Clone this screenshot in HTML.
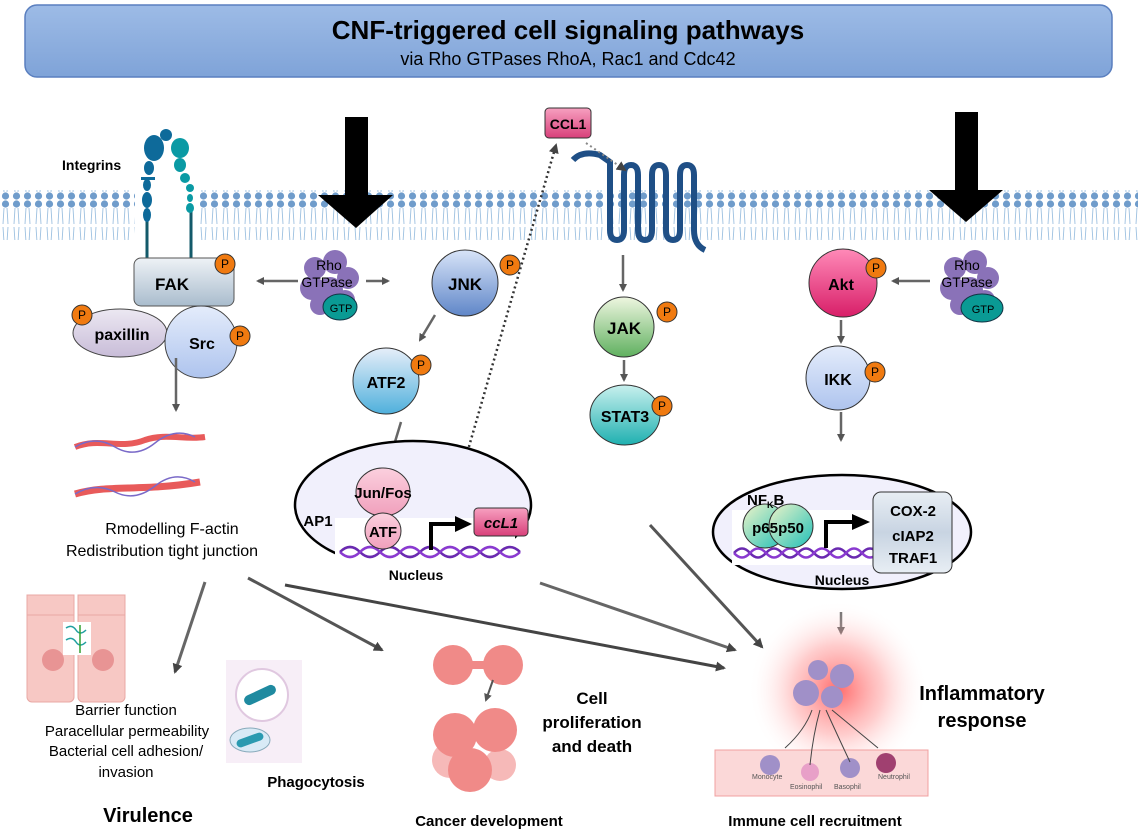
<!DOCTYPE html>
<html><head><meta charset="utf-8"><style>
html,body{margin:0;padding:0;background:#fff}
svg{display:block}
text{font-family:"Liberation Sans",Arial,sans-serif}
.b{font-weight:bold}
</style></head><body>
<svg width="1138" height="835" viewBox="0 0 1138 835" xmlns="http://www.w3.org/2000/svg">
<defs>
<linearGradient id="tg" x1="0" y1="0" x2="0" y2="1"><stop offset="0" stop-color="#9dbbe6"/><stop offset="1" stop-color="#7fa3d8"/></linearGradient>
<pattern id="mem" x="0" y="0" width="11" height="50" patternUnits="userSpaceOnUse">
<circle cx="5.5" cy="4" r="3.6" fill="#6f9ccb"/>
<circle cx="5.5" cy="46" r="3.6" fill="#6f9ccb"/>
<path d="M4 8 L3 24 M7 8 L8 24 M3 27 L4 42 M8 27 L7 42" stroke="#9cc0e0" stroke-width="0.9" fill="none"/>
</pattern>
<linearGradient id="blue" x1="0" y1="0" x2="0" y2="1"><stop offset="0" stop-color="#d8e4f8"/><stop offset="1" stop-color="#5f86c8"/></linearGradient>
<linearGradient id="lblue" x1="0" y1="0" x2="0" y2="1"><stop offset="0" stop-color="#e4ecfb"/><stop offset="1" stop-color="#aec4ee"/></linearGradient>
<linearGradient id="atf2" x1="0" y1="0" x2="0" y2="1"><stop offset="0" stop-color="#e6eef9"/><stop offset="1" stop-color="#4fb0dc"/></linearGradient>
<linearGradient id="fak" x1="0" y1="0" x2="0" y2="1"><stop offset="0" stop-color="#eef2f6"/><stop offset="1" stop-color="#a9bccd"/></linearGradient>
<linearGradient id="pax" x1="0" y1="0" x2="0" y2="1"><stop offset="0" stop-color="#ece8f2"/><stop offset="1" stop-color="#c8bcd8"/></linearGradient>
<linearGradient id="green" x1="0" y1="0" x2="0" y2="1"><stop offset="0" stop-color="#eef6e0"/><stop offset="1" stop-color="#5fb05f"/></linearGradient>
<linearGradient id="teal" x1="0" y1="0" x2="0" y2="1"><stop offset="0" stop-color="#c8f0ee"/><stop offset="1" stop-color="#1fb0b0"/></linearGradient>
<linearGradient id="akt" x1="0" y1="0" x2="0" y2="1"><stop offset="0" stop-color="#ff8ab8"/><stop offset="1" stop-color="#d81e68"/></linearGradient>
<linearGradient id="pink" x1="0" y1="0" x2="0" y2="1"><stop offset="0" stop-color="#fbd0de"/><stop offset="1" stop-color="#f0a0bc"/></linearGradient>
<linearGradient id="ccl" x1="0" y1="0" x2="0" y2="1"><stop offset="0" stop-color="#f7a0c0"/><stop offset="1" stop-color="#d8407a"/></linearGradient>
<linearGradient id="nf" x1="0" y1="0" x2="1" y2="1"><stop offset="0" stop-color="#f0f4c8"/><stop offset="1" stop-color="#20c0b8"/></linearGradient>
<linearGradient id="cox" x1="0" y1="0" x2="0" y2="1"><stop offset="0" stop-color="#e8eef4"/><stop offset="0.5" stop-color="#c8d4e2"/><stop offset="1" stop-color="#e8eef4"/></linearGradient>
<radialGradient id="glow"><stop offset="0" stop-color="#ff5a5a" stop-opacity="0.9"/><stop offset="0.5" stop-color="#ff9a9a" stop-opacity="0.5"/><stop offset="1" stop-color="#fff" stop-opacity="0"/></radialGradient>
<marker id="ah" markerWidth="8" markerHeight="8" refX="6" refY="4" orient="auto" markerUnits="userSpaceOnUse"><path d="M0 0 L8 4 L0 8 Z" fill="#555"/></marker>
<marker id="ahd" markerWidth="10" markerHeight="10" refX="8" refY="5" orient="auto" markerUnits="userSpaceOnUse"><path d="M0 0 L10 5 L0 10 Z" fill="#444"/></marker>
</defs>

<rect x="25" y="5" width="1087" height="72" rx="12" fill="url(#tg)" stroke="#5a7fbf" stroke-width="1.5"/>
<text x="568" y="39" text-anchor="middle" class="b" font-size="26">CNF-triggered cell signaling pathways</text>
<text x="568" y="65" text-anchor="middle" font-size="18">via Rho GTPases RhoA, Rac1 and Cdc42</text>

<rect x="0" y="190" width="135" height="50" fill="url(#mem)"/>
<rect x="200" y="190" width="938" height="50" fill="url(#mem)"/>

<text x="62" y="170" class="b" font-size="14">Integrins</text>
<line x1="147" y1="210" x2="147" y2="258" stroke="#135a6a" stroke-width="3"/>
<line x1="191" y1="210" x2="191" y2="258" stroke="#135a6a" stroke-width="3"/>
<g fill="#0e6a9a"><ellipse cx="154" cy="148" rx="10" ry="13"/><ellipse cx="166" cy="135" rx="6" ry="6"/><ellipse cx="149" cy="168" rx="5" ry="7"/><ellipse cx="147" cy="185" rx="4" ry="6"/><rect x="141" y="177" width="14" height="3"/><ellipse cx="147" cy="200" rx="5" ry="8"/><ellipse cx="147" cy="215" rx="4" ry="7"/></g>
<g fill="#0a9aa4"><ellipse cx="180" cy="148" rx="9" ry="10"/><ellipse cx="180" cy="165" rx="6" ry="7"/><ellipse cx="185" cy="178" rx="5" ry="5"/><ellipse cx="190" cy="188" rx="4" ry="4"/><ellipse cx="190" cy="198" rx="3" ry="4"/><ellipse cx="190" cy="208" rx="4" ry="5"/></g>

<path d="M345 117 H368 V195 H393 L356 228 L318 195 H345 Z" fill="#000"/>
<path d="M955 112 H978 V190 H1003 L966 222 L929 190 H955 Z" fill="#000"/>

<rect x="134" y="258" width="100" height="48" rx="7" fill="url(#fak)" stroke="#555"/>
<text x="172" y="290" text-anchor="middle" class="b" font-size="17">FAK</text>
<ellipse cx="120" cy="333" rx="47" ry="24" fill="url(#pax)" stroke="#444"/>
<text x="122" y="340" text-anchor="middle" class="b" font-size="16">paxillin</text>
<circle cx="201" cy="342" r="36" fill="url(#lblue)" stroke="#444"/>
<text x="202" y="349" text-anchor="middle" class="b" font-size="16">Src</text>

<g fill="#8a72b8"><circle cx="315" cy="268" r="11"/><circle cx="335" cy="262" r="12"/><circle cx="348" cy="278" r="11"/><circle cx="312" cy="288" r="12"/><circle cx="330" cy="290" r="13"/><circle cx="320" cy="305" r="10"/><circle cx="345" cy="300" r="10"/></g>
<text x="329" y="270" text-anchor="middle" font-size="14">Rho</text>
<text x="327" y="287" text-anchor="middle" font-size="14">GTPase</text>
<ellipse cx="340" cy="307" rx="17" ry="13" fill="#0a9a94" stroke="#134"/>
<text x="341" y="312" text-anchor="middle" font-size="11">GTP</text>

<circle cx="465" cy="283" r="33" fill="url(#blue)" stroke="#333"/>
<text x="465" y="290" text-anchor="middle" class="b" font-size="17">JNK</text>
<circle cx="386" cy="381" r="33" fill="url(#atf2)" stroke="#333"/>
<text x="386" y="388" text-anchor="middle" class="b" font-size="16">ATF2</text>

<rect x="545" y="108" width="46" height="30" rx="4" fill="url(#ccl)" stroke="#333"/>
<text x="568" y="129" text-anchor="middle" class="b" font-size="14">CCL1</text>
<path d="M573 160 Q582 150 600 155 L610 162 V230 Q610 240 617 240 Q624 240 624 230 V175 Q624 165 631 165 Q638 165 638 175 V230 Q638 240 645 240 Q652 240 652 230 V175 Q652 165 659 165 Q666 165 666 175 V230 Q666 240 673 240 Q680 240 680 230 V175 Q680 165 687 165 Q694 165 694 175 V230 Q694 245 705 250" fill="none" stroke="#1f4f86" stroke-width="6"/>
<line x1="586" y1="143" x2="625" y2="170" stroke="#888" stroke-width="2" stroke-dasharray="2,3" marker-end="url(#ahd)"/>
<line x1="455" y1="495" x2="556" y2="145" stroke="#333" stroke-width="2.5" stroke-dasharray="2,3" marker-end="url(#ahd)"/>

<circle cx="624" cy="327" r="30" fill="url(#green)" stroke="#333"/>
<text x="624" y="334" text-anchor="middle" class="b" font-size="17">JAK</text>
<ellipse cx="625" cy="415" rx="35" ry="30" fill="url(#teal)" stroke="#333"/>
<text x="625" y="422" text-anchor="middle" class="b" font-size="16">STAT3</text>

<circle cx="843" cy="283" r="34" fill="url(#akt)" stroke="#333"/>
<text x="841" y="290" text-anchor="middle" class="b" font-size="16">Akt</text>
<circle cx="838" cy="378" r="32" fill="url(#lblue)" stroke="#333"/>
<text x="838" y="385" text-anchor="middle" class="b" font-size="16">IKK</text>
<g fill="#8a72b8"><circle cx="955" cy="268" r="11"/><circle cx="975" cy="262" r="12"/><circle cx="988" cy="278" r="11"/><circle cx="952" cy="288" r="12"/><circle cx="970" cy="290" r="13"/><circle cx="960" cy="305" r="10"/><circle cx="985" cy="300" r="10"/></g>
<text x="967" y="270" text-anchor="middle" font-size="14">Rho</text>
<text x="967" y="287" text-anchor="middle" font-size="14">GTPase</text>
<ellipse cx="982" cy="308" rx="21" ry="14" fill="#0a9a94" stroke="#134"/>
<text x="983" y="313" text-anchor="middle" font-size="11">GTP</text>

<g fill="#f07a10" stroke="#333">
<circle cx="225" cy="264" r="10"/><circle cx="82" cy="315" r="10"/><circle cx="240" cy="336" r="10"/>
<circle cx="510" cy="265" r="10"/><circle cx="421" cy="365" r="10"/><circle cx="667" cy="312" r="10"/><circle cx="662" cy="406" r="10"/>
<circle cx="876" cy="268" r="10"/><circle cx="875" cy="372" r="10"/></g>
<g font-size="12" text-anchor="middle">
<text x="225" y="268">P</text><text x="82" y="319">P</text><text x="240" y="340">P</text><text x="510" y="269">P</text><text x="421" y="369">P</text><text x="667" y="316">P</text><text x="662" y="410">P</text><text x="876" y="272">P</text><text x="875" y="376">P</text></g>

<g stroke="#666" stroke-width="2.5" fill="none" marker-end="url(#ah)">
<line x1="298" y1="281" x2="258" y2="281"/>
<line x1="366" y1="281" x2="388" y2="281"/>
<line x1="435" y1="315" x2="420" y2="340"/>
<line x1="623" y1="255" x2="623" y2="290"/>
<line x1="624" y1="360" x2="624" y2="380"/>
<line x1="930" y1="281" x2="893" y2="281"/>
<line x1="841" y1="320" x2="841" y2="342"/>
<line x1="841" y1="412" x2="841" y2="440"/>
<line x1="176" y1="358" x2="176" y2="410"/>
<line x1="401" y1="422" x2="391" y2="455"/>
<line x1="841" y1="612" x2="841" y2="633"/>
</g>

<ellipse cx="413" cy="505" rx="118" ry="64" fill="#f1f0fc" stroke="#000" stroke-width="2.5"/>
<rect x="335" y="518" width="180" height="55" fill="#fff"/>
<path d="M340 552 q10 -10 20 0 t20 0 t20 0 t20 0 t20 0 t20 0 t20 0 t20 0 t20 0" stroke="#6a2ab0" stroke-width="2.5" fill="none"/>
<path d="M340 552 q10 10 20 0 t20 0 t20 0 t20 0 t20 0 t20 0 t20 0 t20 0 t20 0" stroke="#8a3ad0" stroke-width="2.5" fill="none"/>
<ellipse cx="383" cy="492" rx="27" ry="24" fill="url(#pink)" stroke="#333"/>
<text x="383" y="498" text-anchor="middle" class="b" font-size="15">Jun/Fos</text>
<circle cx="383" cy="531" r="18" fill="url(#pink)" stroke="#333"/>
<text x="383" y="537" text-anchor="middle" class="b" font-size="15">ATF</text>
<text x="318" y="526" text-anchor="middle" class="b" font-size="15">AP1</text>
<path d="M431 550 V524 H457" stroke="#000" stroke-width="4" fill="none"/>
<path d="M455 516 L472 524 L455 532 Z" fill="#000"/>
<rect x="474" y="508" width="54" height="28" rx="4" fill="url(#ccl)" stroke="#333"/>
<text x="501" y="528" text-anchor="middle" class="b" font-style="italic" font-size="15">ccL1</text>
<text x="416" y="580" text-anchor="middle" class="b" font-size="14">Nucleus</text>

<ellipse cx="842" cy="532" rx="129" ry="57" fill="#f1f0fc" stroke="#000" stroke-width="2.5"/>
<rect x="732" y="510" width="140" height="55" fill="#fff"/>
<path d="M734 553 q8 -9 16 0 t16 0 t16 0 t16 0 t16 0 t16 0 t16 0 t16 0 t16 0" stroke="#6a2ab0" stroke-width="2.5" fill="none"/>
<path d="M734 553 q8 9 16 0 t16 0 t16 0 t16 0 t16 0 t16 0 t16 0 t16 0 t16 0" stroke="#8a3ad0" stroke-width="2.5" fill="none"/>
<circle cx="765" cy="526" r="22" fill="url(#nf)" stroke="#333"/>
<circle cx="791" cy="526" r="22" fill="url(#nf)" stroke="#333"/>
<text x="765" y="533" text-anchor="middle" class="b" font-size="15">p65</text>
<text x="791" y="533" text-anchor="middle" class="b" font-size="15">p50</text>
<text x="747" y="505" class="b" font-size="15">NF<tspan font-size="9" dy="3">K</tspan><tspan dy="-3">B</tspan></text>
<path d="M826 548 V522 H853" stroke="#000" stroke-width="4" fill="none"/>
<path d="M852 514 L870 522 L852 530 Z" fill="#000"/>
<rect x="873" y="492" width="79" height="81" rx="8" fill="url(#cox)" stroke="#333"/>
<text x="913" y="516" text-anchor="middle" class="b" font-size="15">COX-2</text>
<text x="913" y="541" text-anchor="middle" class="b" font-size="15">cIAP2</text>
<text x="913" y="563" text-anchor="middle" class="b" font-size="15">TRAF1</text>
<text x="842" y="585" text-anchor="middle" class="b" font-size="14">Nucleus</text>

<g stroke-width="3" fill="none">
<path d="M75 447 C100 437 120 450 145 440 C165 433 185 440 205 437" stroke="#e85a5a" stroke-width="6"/>
<path d="M75 447 Q95 435 115 447 T155 443 T195 437" stroke="#7a6ac8" stroke-width="1.5"/>
<path d="M75 494 C110 484 140 492 200 482" stroke="#e85a5a" stroke-width="7"/>
<path d="M75 494 Q95 482 115 492 T155 486 T195 482" stroke="#7a6ac8" stroke-width="1.5"/>
</g>
<text x="172" y="534" text-anchor="middle" font-size="16">Rmodelling F-actin</text>
<text x="162" y="556" text-anchor="middle" font-size="16">Redistribution tight junction</text>

<g fill="#f7c8c4" stroke="#e8a8a4">
<rect x="27" y="610" width="47" height="92" rx="5"/><rect x="78" y="610" width="47" height="92" rx="5"/>
<rect x="27" y="595" width="47" height="20" /><rect x="78" y="595" width="47" height="20"/>
</g>
<circle cx="53" cy="660" r="11" fill="#e89494"/><circle cx="103" cy="660" r="11" fill="#e89494"/>
<rect x="63" y="622" width="28" height="33" fill="#fff"/>
<path d="M66 628 q6 -4 10 2 t10 0 M66 640 q6 -4 10 2 t10 0" stroke="#20a0a0" stroke-width="1.5" fill="none"/>
<path d="M80 625 v28" stroke="#30a030" stroke-width="1.5"/>
<text x="126" y="715" text-anchor="middle" font-size="15">Barrier function</text>
<text x="127" y="736" text-anchor="middle" font-size="15">Paracellular permeability</text>
<text x="126" y="756" text-anchor="middle" font-size="15">Bacterial cell adhesion/</text>
<text x="126" y="777" text-anchor="middle" font-size="15">invasion</text>
<text x="148" y="822" class="b" font-size="20" text-anchor="middle">Virulence</text>

<rect x="226" y="660" width="76" height="103" fill="#f7eef7"/>
<ellipse cx="262" cy="695" rx="26" ry="26" fill="#fff" stroke="#e0c8e0" stroke-width="2"/>
<rect x="243" y="690" width="34" height="10" rx="5" fill="#1f8aa0" transform="rotate(-25 260 695)"/>
<ellipse cx="250" cy="740" rx="20" ry="12" fill="#d8eaf6" stroke="#8ab"/>
<rect x="236" y="736" width="28" height="8" rx="4" fill="#2a9ab0" transform="rotate(-20 250 740)"/>
<text x="316" y="787" text-anchor="middle" class="b" font-size="15">Phagocytosis</text>

<g fill="#f08a88"><circle cx="453" cy="665" r="20"/><circle cx="503" cy="665" r="20"/><rect x="465" y="661" width="26" height="8"/>
<circle cx="455" cy="735" r="22"/><circle cx="495" cy="730" r="22"/><circle cx="470" cy="770" r="22"/><circle cx="450" cy="760" r="18" opacity="0.6"/><circle cx="500" cy="765" r="16" opacity="0.6"/></g>
<text x="489" y="826" text-anchor="middle" class="b" font-size="15">Cancer  development</text>
<text x="592" y="704" text-anchor="middle" class="b" font-size="17">Cell</text>
<text x="592" y="728" text-anchor="middle" class="b" font-size="17">proliferation</text>
<text x="592" y="752" text-anchor="middle" class="b" font-size="17">and death</text>
<line x1="493" y1="680" x2="486" y2="700" stroke="#555" stroke-width="2" marker-end="url(#ah)"/>

<circle cx="838" cy="690" r="90" fill="url(#glow)"/>
<rect x="715" y="750" width="213" height="46" fill="#fbd8d8" stroke="#f0a0a0"/>
<g fill="#a090c8"><circle cx="818" cy="670" r="10"/><circle cx="842" cy="676" r="12"/><circle cx="806" cy="693" r="13"/><circle cx="832" cy="697" r="11"/><circle cx="770" cy="765" r="10"/><circle cx="850" cy="768" r="10"/></g>
<circle cx="810" cy="772" r="9" fill="#e8a0c8"/><circle cx="886" cy="763" r="10" fill="#a04070"/>
<g stroke="#444" stroke-width="1" fill="none"><path d="M785 748 Q805 730 812 710"/><path d="M810 765 Q813 735 820 710"/><path d="M850 762 Q835 730 826 710"/><path d="M878 748 Q850 725 832 710"/></g>
<g font-size="7" fill="#555"><text x="752" y="779">Monocyte</text><text x="790" y="789">Eosinophil</text><text x="834" y="789">Basophil</text><text x="878" y="779">Neutrophil</text></g>
<text x="815" y="826" text-anchor="middle" class="b" font-size="15">Immune cell recruitment</text>
<text x="982" y="700" text-anchor="middle" class="b" font-size="20">Inflammatory</text>
<text x="982" y="727" text-anchor="middle" class="b" font-size="20">response</text>

<g stroke-width="3" fill="none" marker-end="url(#ahd)">
<line x1="205" y1="582" x2="175" y2="672" stroke="#666"/>
<line x1="248" y1="578" x2="382" y2="650" stroke="#555"/>
<line x1="285" y1="585" x2="724" y2="668" stroke="#444"/>
<line x1="540" y1="583" x2="735" y2="650" stroke="#666"/>
<line x1="650" y1="525" x2="762" y2="647" stroke="#555"/>
</g>
</svg>
</body></html>
